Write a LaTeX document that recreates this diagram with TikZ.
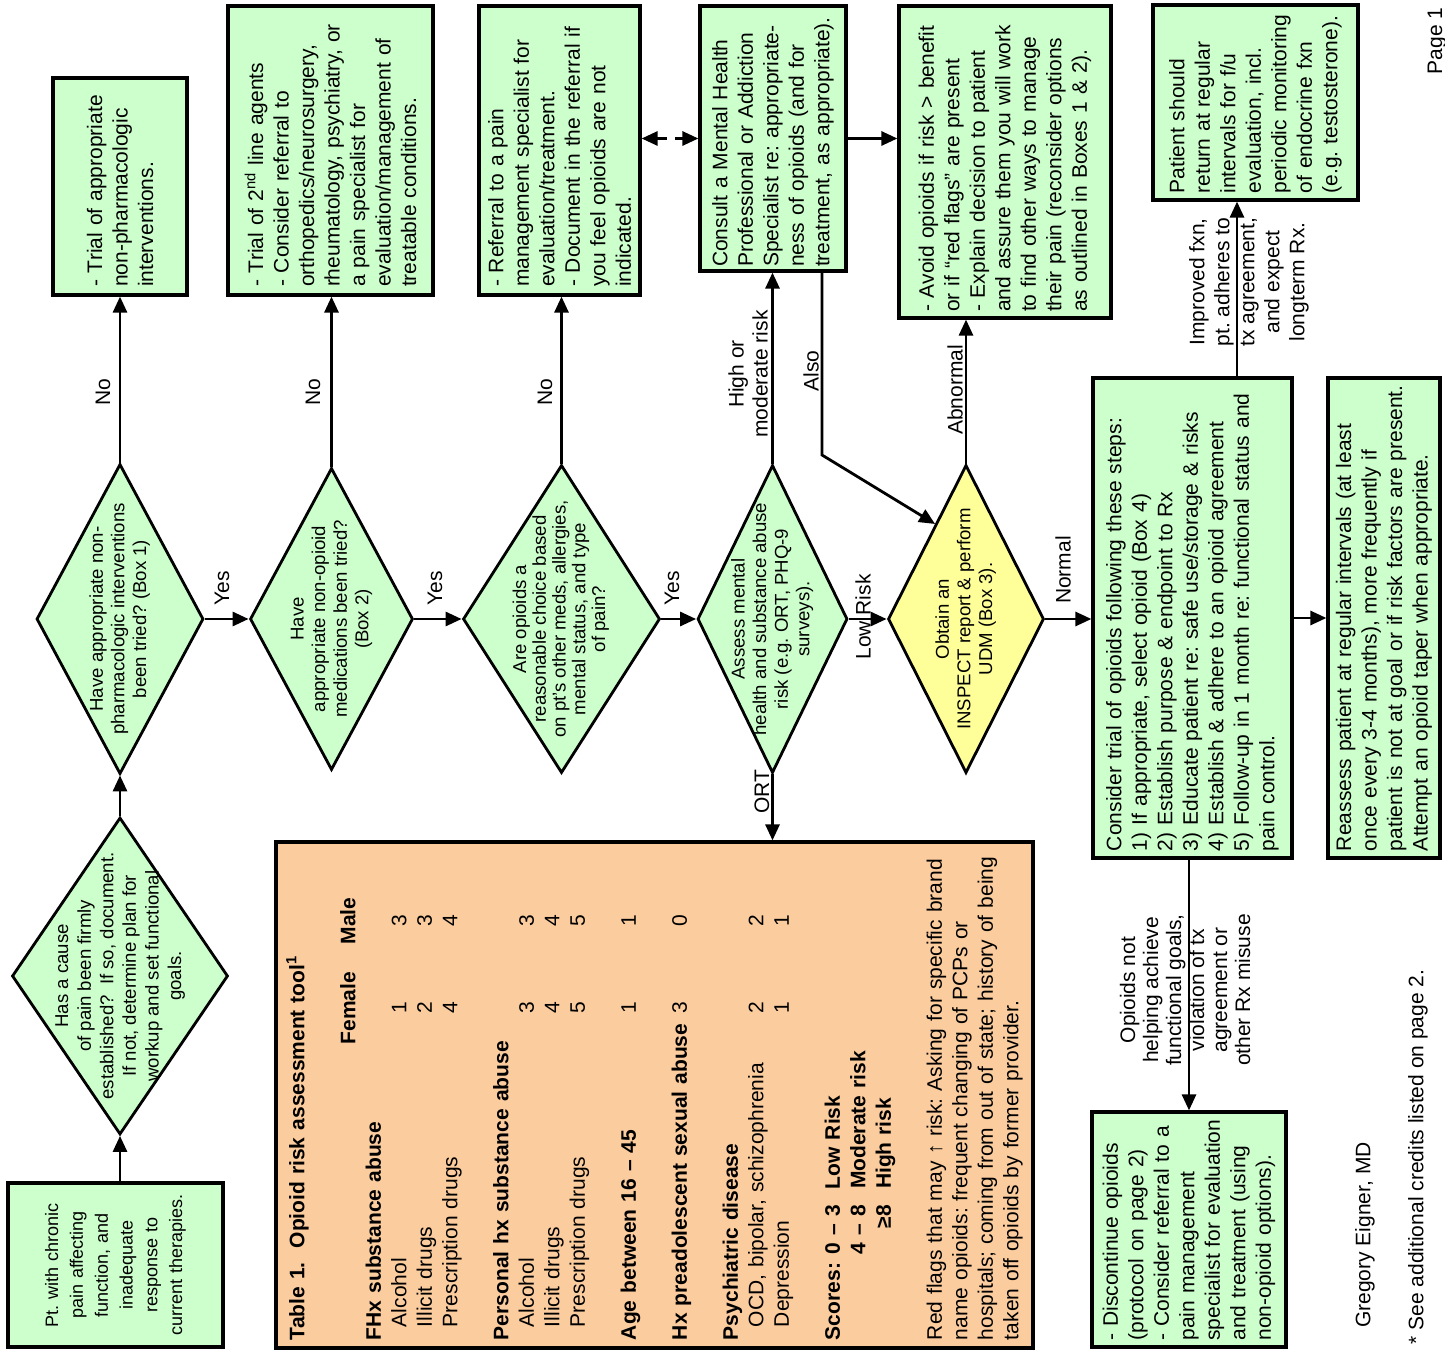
\documentclass[tikz,border=0pt]{standalone}
\usepackage{fontspec}
\setmainfont{Liberation Sans}
\usetikzlibrary{shapes.geometric, arrows.meta}
\frenchspacing
\newcommand{\dtext}[1]{\makebox[0pt]{\smash{\raisebox{-0.25em}{\begin{tabular}{@{}c@{}}#1\end{tabular}}}}}
\newcommand{\ortrow}[3]{\leavevmode\rlap{\hspace*{166pt}\makebox[0pt]{#2}}\rlap{\hspace*{209.5pt}\makebox[0pt]{#3}}#1}

\begin{document}
\begin{tikzpicture}[x=0.5pt, y=-0.5pt,
  box/.style={draw, line width=1.6pt, fill=mygreen, rotate=90, inner sep=2pt, align=left, font=\fontsize{10.5}{12.75}\selectfont},
  decision/.style={diamond, draw, line width=1.4pt, fill=mygreen, rotate=90, inner sep=0pt, font=\fontsize{9.3}{10.8}\selectfont},
  lbl/.style={rotate=90, inner sep=1pt, align=center, font=\fontsize{10.5}{12}\selectfont},
  arr/.style={-{Triangle[length=8pt,width=7pt]}, line width=1.4pt}]
	\definecolor{mygreen}{RGB}{204,255,204}
	\definecolor{myyellow}{RGB}{255,255,153}
	\definecolor{mypeach}{RGB}{251,204,158}
	\useasboundingbox (0,0) rectangle (1445,1353);

	\node[box, minimum width=82pt, minimum height=107.5pt, text width=76pt, align=center, font=\fontsize{9}{12.4}\selectfont] (pt) at (115.5,1265) {Pt. with chronic\\pain affecting\\function, and\\inadequate\\response to\\current therapies.};

	\node[decision, minimum width=158.5pt, minimum height=108pt, font=\fontsize{9.3}{11.3}\selectfont] (d1) at (120,976) {\dtext{Has a cause\\of pain been firmly\\established?\ \ If so, document.\\If not, determine plan for\\workup and set functional\\goals.}};
	\node[decision, minimum width=155pt, minimum height=83.5pt] (d2) at (120,619) {\dtext{Have appropriate non-\\pharmacologic interventions\\been tried? (Box 1)}};
	\node[decision, minimum width=151pt, minimum height=81.5pt] (d3) at (331.5,619) {\dtext{Have\\appropriate non-opioid\\medications been tried?\\(Box 2)}};
	\node[decision, minimum width=154pt, minimum height=98.5pt, font=\fontsize{9.3}{9.9}\selectfont] (d4) at (561.5,619) {\dtext{Are opioids a\\reasonable choice based\\on pt's other meds, allergies,\\mental status, and type\\of pain?}};
	\node[decision, minimum width=154pt, minimum height=75pt] (d5) at (772.5,619) {\dtext{Assess mental\\health and substance abuse\\risk (e.g. ORT, PHQ-9\\surveys).}};
	\node[decision, minimum width=154pt, minimum height=78pt, fill=myyellow] (d6) at (966,619) {\dtext{Obtain an\\INSPECT report \& perform\\UDM (Box 3).}};

	\node[box, minimum width=108.5pt, minimum height=67pt, text width=100.5pt] (b1) at (120,186.5) {- Trial of appropriate\\non-pharmacologic\\interventions.};
	\node[box, minimum width=144.5pt, minimum height=102.5pt, text width=136.5pt] (b2) at (330.5,150.5) {- Trial of 2\textsuperscript{nd} line agents\\- Consider referral to\\orthopedics/neurosurgery,\\rheumatology, psychiatry, or\\a pain specialist for\\evaluation/management of\\treatable conditions.};
	\node[box, minimum width=144.5pt, minimum height=80.5pt, text width=136.5pt] (b3) at (559.5,150.5) {- Referral to a pain\\management specialist for\\evaluation/treatment.\\- Document in the referral if\\you feel opioids are not\\indicated.};
	\node[box, minimum width=132.5pt, minimum height=73pt, text width=128.5pt] (b4) at (773,138.5) {Consult a Mental Health\\Professional or Addiction\\Specialist re: appropriate-\\ness of opioids (and for\\treatment, as appropriate).};
	\node[box, minimum width=156pt, minimum height=106pt, text width=150pt] (b5) at (1005,162) {- Avoid opioids if risk > benefit\\or if “red flags” are present\\- Explain decision to patient\\and assure them you will work\\to find other ways to manage\\their pain (reconsider options\\as outlined in Boxes 1 \& 2).};
	\node[box, minimum width=97.5pt, minimum height=102.5pt, text width=91pt] (pat) at (1255.5,102.5) {Patient should\\return at regular\\intervals for f/u\\evaluation, incl.\\periodic monitoring\\of endocrine fxn\\(e.g. testosterone).};
	\node[box, minimum width=240pt, minimum height=99.5pt, text width=233pt] (cons) at (1192.5,618) {Consider trial of opioids following these steps:\\1) If appropriate, select opioid (Box 4)\\2) Establish purpose \& endpoint to Rx\\3) Educate patient re: safe use/storage \& risks\\4) Establish \& adhere to an opioid agreement\\5) Follow-up in 1 month re: functional status and\\pain control.};
	\node[box, minimum width=240pt, minimum height=56pt, text width=233pt] (reas) at (1384,618) {Reassess patient at regular intervals (at least\\once every 3-4 months), more frequently if\\patient is not at goal or if risk factors are present.\\Attempt an opioid taper when appropriate.};
	\node[box, minimum width=117.5pt, minimum height=97pt, text width=111pt] (disc) at (1189,1229.5) {- Discontinue opioids\\(protocol on page 2)\\- Consider referral to a\\pain management\\specialist for evaluation\\and treatment (using\\non-opioid options).};

	\node[box, fill=mypeach, minimum width=253pt, minimum height=378.5pt, text width=245pt] (ort) at (654.5,1095) {\textbf{Table 1.\ \ Opioid risk assessment tool\textsuperscript{1}}\\
~\\
\ortrow{}{\textbf{Female}}{\textbf{Male}}\\
\textbf{FHx substance abuse}\\
\ortrow{\hspace*{6.5pt}Alcohol}{1}{3}\\
\ortrow{\hspace*{6.5pt}Illicit drugs}{2}{3}\\
\ortrow{\hspace*{6.5pt}Prescription drugs}{4}{4}\\
~\\
\textbf{Personal hx substance abuse}\\
\ortrow{\hspace*{6.5pt}Alcohol}{3}{3}\\
\ortrow{\hspace*{6.5pt}Illicit drugs}{4}{4}\\
\ortrow{\hspace*{6.5pt}Prescription drugs}{5}{5}\\
~\\
\ortrow{\textbf{Age between 16 – 45}}{1}{1}\\
~\\
\ortrow{\textbf{Hx preadolescent sexual abuse}}{3}{0}\\
~\\
\textbf{Psychiatric disease}\\
\ortrow{\hspace*{6.5pt}OCD, bipolar, schizophrenia}{2}{2}\\
\ortrow{\hspace*{6.5pt}Depression}{1}{1}\\
~\\
\textbf{\makebox[43pt][l]{Scores:}0 – 3\hspace{8pt}Low Risk}\\
\textbf{\hspace*{43pt}4 – 8\hspace{8pt}Moderate risk}\\
\textbf{\hspace*{43pt}\hphantom{4 – }\llap{≥}8\hspace{8pt}High risk}\\
~\\
Red flags that may ↑ risk: Asking for specific brand\\
name opioids: frequent changing of PCPs or\\
hospitals; coming from out of state; history of being\\
taken off opioids by former provider.};

	\node[lbl] (no1) at (103,392) {No};
	\node[lbl] (no2) at (313,392) {No};
	\node[lbl] (no3) at (545,392) {No};
	\node[lbl] (yes1) at (222,588) {Yes};
	\node[lbl] (yes2) at (435,588) {Yes};
	\node[lbl] (yes3) at (672,588) {Yes};
	\node[lbl] (lowrisk) at (863,617) {Low Risk};
	\node[lbl] (normal) at (1063,570) {Normal};
	\node[lbl] (abnormal) at (955,390) {Abnormal};
	\node[lbl] (also) at (811,371) {Also};
	\node[lbl] (highmod) at (748,374) {High or\\moderate risk};
	\node[lbl] (ortlbl) at (762,792) {ORT};
	\node[lbl, font=\fontsize{10.5}{12.5}\selectfont] (improved) at (1249,282) {Improved fxn,\\pt. adheres to\\tx agreement,\\and expect\\longterm Rx.};
	\node[lbl, font=\fontsize{10.5}{11.5}\selectfont] (notgoal) at (1185,990) {Opioids not\\helping achieve\\functional goals,\\violation of tx\\agreement or\\other Rx misuse};
	\node[lbl] (author) at (1365,1235) {Gregory Eigner, MD};
	\node[lbl] (credits) at (1418,1157) {* See additional credits listed on page 2.};
	\node[lbl] (page) at (1437,41) {Page 1};

	\draw[arr] (d1.west |- pt.east) -- (d1.west);
	\draw[arr] (d1.east) -- (d2.west);
	\draw[arr] (d2.east) -- (d2.east |- b1.west);
	\draw[arr] (d2.south) -- (d3.north);
	\draw[arr] (d3.east) -- (d3.east |- b2.west);
	\draw[arr] (d3.south) -- (d4.north);
	\draw[arr] (d4.east) -- (d4.east |- b3.west);
	\draw[arr] (d4.south) -- (d5.north);
	\draw[arr] (d5.east) -- (d5.east |- b4.west);
	\draw[arr] (d5.west) -- (d5.west |- ort.east);
	\draw[arr] (d5.south) -- (d6.north);
	\draw[arr] (d6.east) -- (d6.east |- b5.west);
	\draw[arr] (d6.south) -- (d6.south -| cons.north);
	\draw[arr, {Triangle[length=8pt,width=7pt]}-{Triangle[length=8pt,width=7pt]}, dash pattern=on 5pt off 4pt] (b3.south |- b4.north) -- (b4.north);
	\draw[arr] (b4.south) -- (b4.south -| b5.north);
	\coordinate (alsoturn) at (822,455);
	\draw[arr] (alsoturn |- b4.west) -- (alsoturn) -- (d6.18);
	\draw[arr] (cons.south) -- (cons.south -| reas.north);
	\coordinate (fuline) at (1237,0);
	\draw[arr] (fuline |- cons.east) -- (fuline |- pat.west);
	\draw[arr] (disc.east |- cons.west) -- (disc.east);
\end{tikzpicture}
\end{document}
